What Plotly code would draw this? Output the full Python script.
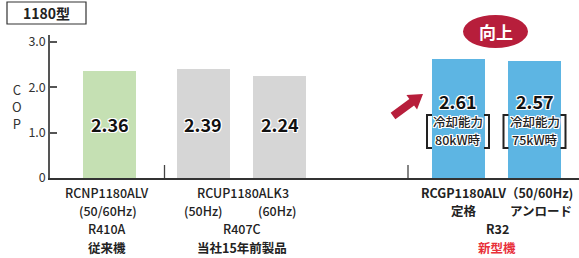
import plotly.graph_objects as go

# ---- data ----
models = ["RCNP1180ALV", "RCUP1180ALK3 (50Hz)", "RCUP1180ALK3 (60Hz)",
          "RCGP1180ALV 定格", "RCGP1180ALV アンロード"]
cop = [2.36, 2.39, 2.24, 2.61, 2.57]
bar_colors = ["#C5E0B3", "#D6D6D6", "#D6D6D6", "#5DB5E3", "#5DB5E3"]
y_ticks = [0, 1, 2, 3]
y_tick_labels = ["0", "1.0", "2.0", "3.0"]
capacity_notes = [None, None, None, "冷却能力<br>80kW時", "冷却能力<br>75kW時"]

# ---- layout helpers (positions) ----
W, H = 579, 258
ML, MR, MT, MB = 50, 0, 35, 80
PW, PH = W - ML - MR, H - MT - MB
bar_pos = [59.5, 153, 229.5, 408, 484.5]   # x-axis units (plot px from left)
bar_width = 53
label_level = [1.19, 1.19, 1.19, 1.69, 1.69]
FONT = "Noto Sans CJK JP"
outline = ("-1px -1px 0 #fff, 1px -1px 0 #fff, -1px 1px 0 #fff, 1px 1px 0 #fff,"
           " 0 1px 0 #fff, 0 -1px 0 #fff, 1px 0 0 #fff, -1px 0 0 #fff")


def X(px):
    return (px - ML) / PW


def Y(py):
    return (H - MB - py) / PH


def ann(px, py, text, size, color="#222", shadow=None, weight=None):
    f = dict(family=FONT, size=size, color=color)
    if shadow:
        f["shadow"] = shadow
    if weight:
        f["weight"] = weight
    return dict(x=X(px), y=Y(py), xref="paper", yref="paper", text=text,
                showarrow=False, xanchor="center", yanchor="middle", font=f)


fig = go.Figure()
fig.add_trace(go.Bar(x=bar_pos, y=cop, width=bar_width,
                     marker=dict(color=bar_colors, line=dict(width=0)),
                     hoverinfo="skip", showlegend=False))

annotations = []
shapes = []

# value labels
for xp, v, lv in zip(bar_pos, cop, label_level):
    annotations.append(dict(x=xp, y=lv, xref="x", yref="y", text=f"<b>{v:.2f}</b>",
                            showarrow=False, xanchor="center", yanchor="middle",
                            font=dict(family=FONT, size=18, color="#111", shadow=outline)))

# capacity notes with brackets
for xp, note in zip(bar_pos, capacity_notes):
    if not note:
        continue
    cx = xp + ML
    l1, l2 = note.split("<br>")
    annotations.append(ann(cx, 122, l1, 12.5, "#222", outline, 500))
    annotations.append(ann(cx, 139.5, l2, 12.5, "#222", outline, 500))
    xl, xr = X(cx - 31), X(cx + 31)
    xl2, xr2 = X(cx - 26), X(cx + 26)
    yt, yb = Y(115), Y(148)
    for a, b in ((xl, xl2), (xr, xr2)):
        shapes.append(dict(type="path", xref="paper", yref="paper",
                           path=f"M {b},{yt} L {a},{yt} L {a},{yb} L {b},{yb}",
                           line=dict(color="#222", width=2)))

# group separators
for px in (164.5, 408):
    shapes.append(dict(type="line", xref="paper", yref="paper",
                       x0=X(px), x1=X(px), y0=Y(165), y1=Y(178),
                       line=dict(color="#444", width=1.3)))

# title box
shapes.append(dict(type="rect", xref="paper", yref="paper",
                   x0=X(7), x1=X(86), y0=Y(24), y1=Y(2),
                   line=dict(color="#333", width=1.2), fillcolor="white"))
annotations.append(ann(46.5, 13.5, "<b>1180型</b>", 14))

# COP vertical label (stacked letters)
annotations.append(ann(17, 106, "C<br>O<br>P", 13, "#333"))

# "向上" ellipse
shapes.append(dict(type="circle", xref="paper", yref="paper",
                   x0=X(463), x1=X(528), y0=Y(48), y1=Y(15),
                   fillcolor="#B71E3B", line=dict(width=0)))
annotations.append(ann(495.5, 31.5, "<b>向上</b>", 17, "white"))

# arrow polygon
ux, uy = 0.806, -0.591
nx, ny = 0.591, 0.806
Tx, Ty = 423, 94
Bx, By = Tx - 14 * ux, Ty - 14 * uy
Cx, Cy = 393, 116
pts = [(Cx - 4 * nx, Cy - 4 * ny), (Bx - 4 * nx, By - 4 * ny), (Bx - 9 * nx, By - 9 * ny),
       (Tx, Ty), (Bx + 9 * nx, By + 9 * ny), (Bx + 4 * nx, By + 4 * ny), (Cx + 4 * nx, Cy + 4 * ny)]
path = "M " + " L ".join(f"{X(px)},{Y(py)}" for px, py in pts) + " Z"
shapes.append(dict(type="path", xref="paper", yref="paper", path=path,
                   fillcolor="#B71E3B", line=dict(width=0)))

# category labels
cat_labels = [
    ("RCNP1180ALV", 107, 192, "#222", False),
    ("(50/60Hz)", 108, 210, "#222", False),
    ("R410A", 107, 228, "#222", False),
    ("従来機", 107, 247, "#222", True),
    ("RCUP1180ALK3", 243, 192, "#222", False),
    ("(50Hz)", 203, 210, "#222", False),
    ("(60Hz)", 277.5, 210, "#222", False),
    ("R407C", 242, 228, "#222", False),
    ("当社15年前製品", 242, 247, "#222", True),
    ("RCGP1180ALV（50/60Hz)", 496.5, 192, "#222", True),
    ("定格", 463.5, 210, "#222", True),
    ("アンロード", 541, 210, "#222", True),
    ("R32", 497, 228, "#222", True),
    ("新型機", 496.5, 247, "#E8303A", True),
]
for txt, px, py, col, bold in cat_labels:
    if bold:
        annotations.append(ann(px, py, f"<b>{txt}</b>", 12.5, col))
    else:
        annotations.append(ann(px, py, txt, 12.5, col, weight=500))

fig.update_layout(
    width=W, height=H, autosize=False,
    margin=dict(l=ML, r=MR, t=MT, b=MB, pad=0),
    plot_bgcolor="white", paper_bgcolor="white",
    xaxis=dict(range=[0, PW], showgrid=False, zeroline=False, showticklabels=False,
               ticks="", showline=True, linecolor="#333", linewidth=2, fixedrange=True),
    yaxis=dict(range=[0, PH / 45.43], showgrid=False, zeroline=False,
               tickvals=y_ticks, ticktext=y_tick_labels, ticks="inside", ticklen=7,
               tickwidth=1.5, tickcolor="#555", showline=True, linecolor="#555",
               linewidth=1.5, tickfont=dict(family=FONT, size=12.5, color="#333"),
               fixedrange=True),
    bargap=0,
    annotations=annotations,
    shapes=shapes,
)

fig.write_html("out.html", config={"displayModeBar": False},
               post_script="document.body.style.margin='0';")
